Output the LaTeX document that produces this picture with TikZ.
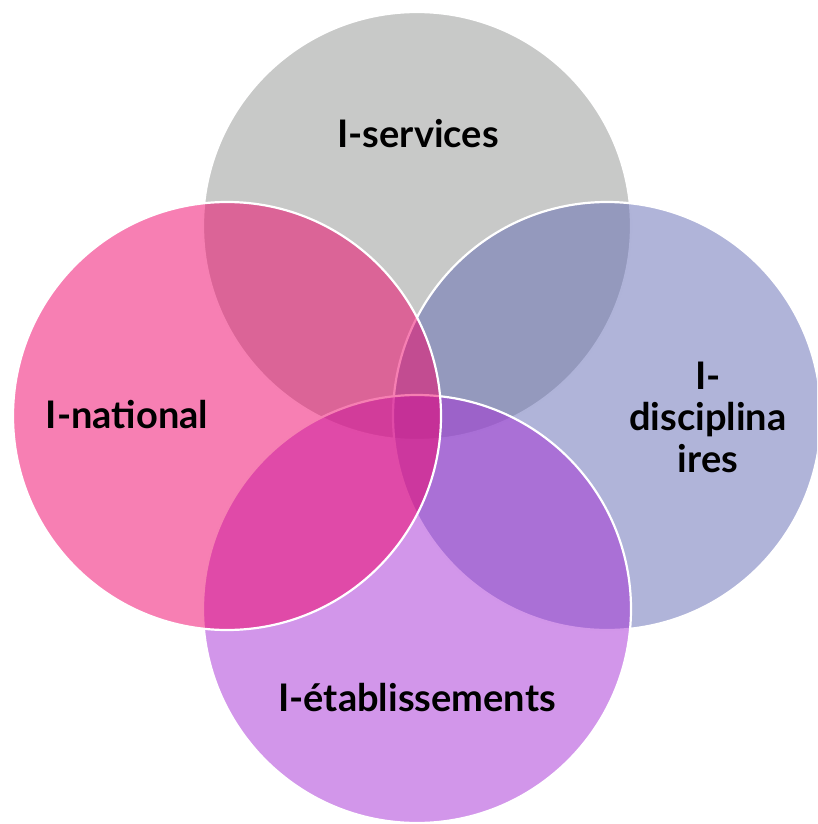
\documentclass[tikz,border=0pt]{standalone}
\usepackage{fontspec}
\setmainfont{Lato}
\definecolor{cgray}{RGB}{145,147,145}
\definecolor{clav}{RGB}{97,105,179}
\definecolor{cpurple}{RGB}{165,45,213}
\definecolor{cpink}{RGB}{239,0,103}
\begin{document}
\begin{tikzpicture}[x=1pt,y=-1pt,
  circ/.style={fill opacity=0.5, draw=white, draw opacity=1, line width=2.2pt},
  lbl/.style={font=\bfseries\fontsize{38}{41.5}\selectfont, text=black, align=center, inner sep=0pt}]
\useasboundingbox (0,0) rectangle (817,824);
\begin{scope}
\clip (0,0) rectangle (817,824);
\path[circ, fill=cgray] (417,226) circle[radius=214];
\path[circ, fill=clav] (607,416) circle[radius=214];
\path[circ, fill=cpurple] (417,609) circle[radius=214];
\path[circ, fill=cpink] (227,416) circle[radius=214];
\end{scope}
\node[lbl] (ts) at (418,134) {I-services};
\node[lbl] (tn) at (127,415) {I-national};
\node[lbl] (td) at (708,417) {I-\\disciplina\\ires};
\node[lbl] (te) at (417,698) {I-établissements};
\end{tikzpicture}
\end{document}
